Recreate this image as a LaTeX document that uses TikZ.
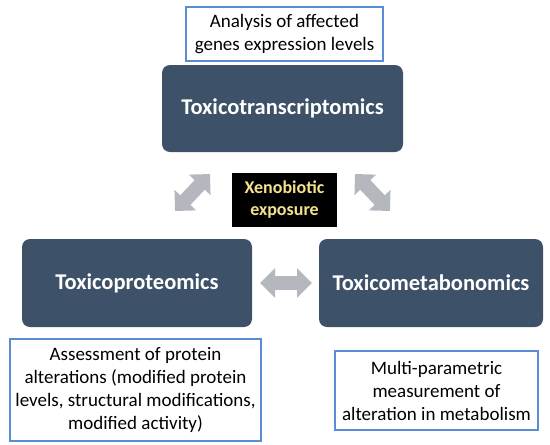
\documentclass[tikz,border=0pt]{standalone}
\usepackage{fontspec}
\setmainfont{Carlito}
\usepackage{tikz}
\usetikzlibrary{arrows.meta}

\definecolor{slate}{RGB}{61,81,104}
\definecolor{noteblue}{RGB}{91,141,213}
\definecolor{arrowgray}{RGB}{180,184,190}
\definecolor{xenoyellow}{RGB}{245,225,140}

\begin{document}
\begin{tikzpicture}[x=1pt,y=-1pt,
  omics/.style={fill=slate, rounded corners=8pt, text=white, font=\fontsize{22.5}{26}\selectfont\bfseries, inner sep=0pt},
  note/.style={draw=noteblue, line width=1.2pt, fill=white, align=center, inner sep=0pt, font=\fontsize{19}{23}\selectfont},
  twoway/.style={draw=arrowgray, line width=14pt, {Triangle[width=29pt,length=15pt]}-{Triangle[width=29pt,length=15pt]}}]
\useasboundingbox (0,0) rectangle (550,445);
% the three omics boxes
\node[omics, minimum width=241, minimum height=87] (transcr) at (282.5,108.5) {Toxicotranscriptomics};
\node[omics, minimum width=230, minimum height=88] (prot) at (137,283) {Toxicoproteomics};
\node[omics, minimum width=224, minimum height=88] (metab) at (431,283) {Toxicometabonomics};
% centre
\node[fill=black, text=xenoyellow, align=center, inner sep=0pt, minimum width=105, minimum height=54,
  font=\fontsize{18}{22}\selectfont\bfseries] (xeno) at (284.5,200) {Xenobiotic\\exposure};
% notes
\node[note, minimum width=197, minimum height=54] (transcrnote) at (284.5,34) {Analysis of affected\\genes expression levels};
\node[note, minimum width=251, minimum height=102] (protnote) at (135.5,390) {Assessment of protein\\alterations (modified protein\\levels, structural modifications,\\modified activity)};
\node[note, minimum width=203, minimum height=79] (metabnote) at (436.5,390.5) {Multi-parametric\\measurement of\\alteration in metabolism};
% arrows
\coordinate (a1) at (175,211);
\coordinate (a2) at (210,174);
\coordinate (b1) at (355,174);
\coordinate (b2) at (390,211);
\coordinate (c1) at (260,283);
\coordinate (c2) at (312,283);
\draw[twoway] (a1) -- (a2);
\draw[twoway] (b1) -- (b2);
\draw[twoway] (c1) -- (c2);
\end{tikzpicture}
\end{document}
